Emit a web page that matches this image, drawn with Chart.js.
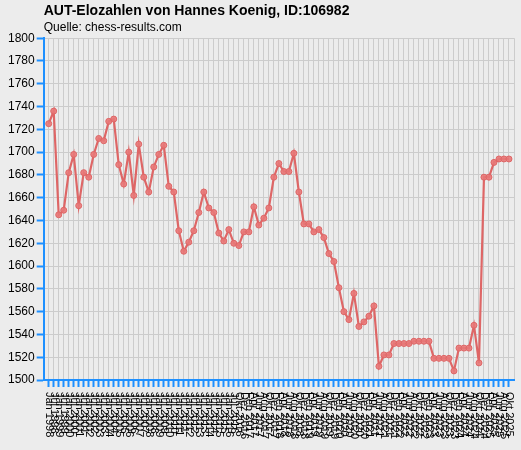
<!DOCTYPE html>
<html>
<head>
<meta charset="utf-8">
<script src="https://cdn.jsdelivr.net/npm/chart.js@4.4.1/dist/chart.umd.min.js"></script>
<style>
  html, body { margin: 0; padding: 0; background: #ececec; }
  #wrap { width: 521px; height: 450px; }
</style>
</head>
<body>
<div id="wrap"><canvas id="chart"></canvas></div>
<script>
// =====================
// Data
// =====================
const listLabels = [
  "Jan 1998","Jul 1998","Jan 1999","Jul 1999","Jan 2000","Jul 2000","Jan 2001","Jul 2001",
  "Jan 2002","Jul 2002","Jan 2003","Jul 2003","Jan 2004","Jul 2004","Jan 2005","Jul 2005",
  "Jan 2006","Jul 2006","Jan 2007","Jul 2007","Jan 2008","Jul 2008","Jan 2009","Jul 2009",
  "Jan 2010","Jul 2010","Jan 2011","Jul 2011","Jan 2012","Jul 2012","Jan 2013","Jul 2013",
  "Jan 2014","Jul 2014","Jan 2015","Jul 2015","Jan 2016","Jul 2016",
  "Okt 2016","Dez 2016",
  "Feb 2017","Apr 2017","Jun 2017","Aug 2017","Okt 2017","Dez 2017",
  "Feb 2018","Apr 2018","Jun 2018","Aug 2018","Okt 2018","Dez 2018",
  "Feb 2019","Apr 2019","Jun 2019","Aug 2019","Okt 2019","Dez 2019",
  "Feb 2020","Apr 2020","Jun 2020","Aug 2020","Okt 2020","Dez 2020",
  "Feb 2021","Apr 2021","Jun 2021","Aug 2021","Okt 2021","Dez 2021",
  "Feb 2022","Apr 2022","Jun 2022","Aug 2022","Okt 2022","Dez 2022",
  "Feb 2023","Apr 2023","Jun 2023","Aug 2023","Okt 2023","Dez 2023",
  "Feb 2024","Apr 2024","Jun 2024","Aug 2024","Okt 2024","Dez 2024",
  "Feb 2025","Apr 2025","Jun 2025","Aug 2025","Okt 2025"
];

const eloValues = [
  1725, 1736, 1645, 1649, 1682, 1698, 1653, 1682, 1678, 1698,
  1712, 1710, 1727, 1729, 1689, 1672, 1700, 1662, 1707, 1678,
  1665, 1687, 1698, 1706, 1670, 1665, 1631, 1613, 1621, 1631,
  1647, 1665, 1651, 1647, 1629, 1622, 1632, 1620, 1618, 1630,
  1630, 1652, 1636, 1642, 1651, 1678, 1690, 1683, 1683, 1699,
  1665, 1637, 1637, 1630, 1632, 1625, 1611, 1604, 1581, 1560,
  1553, 1576, 1547, 1551, 1556, 1565, 1512, 1522, 1522, 1532,
  1532, 1532, 1532, 1534, 1534, 1534, 1534, 1519, 1519, 1519,
  1519, 1508, 1528, 1528, 1528, 1548, 1515, 1678, 1678, 1691,
  1694, 1694, 1694
];

const yMin = 1500;
const yMax = 1800;
const yStep = 20;

// =====================
// Style
// =====================
const axisBlue = "#1e90ff";
const gridGray = "#cccccc";
const lineRed = "#de6666";

Chart.defaults.font.family = "'Liberation Sans', Arial, sans-serif";
Chart.defaults.color = "#000";

// x labels read top-to-bottom, drawn at the scale's own tick positions
const xLabelPlugin = {
  id: "xLabels",
  afterDraw(chart) {
    const scale = chart.scales.x;
    const ctx = chart.ctx;
    ctx.save();
    ctx.font = "11px 'Liberation Sans', Arial, sans-serif";
    ctx.fillStyle = "#000";
    ctx.textAlign = "left";
    ctx.textBaseline = "middle";
    listLabels.forEach((lab, i) => {
      const x = scale.getPixelForValue(i);
      ctx.save();
      ctx.translate(x, scale.bottom + 5);
      ctx.rotate(Math.PI / 2);
      ctx.fillText(lab, 0, 0);
      ctx.restore();
    });
    ctx.restore();
  }
};

const ctx = document.getElementById("chart").getContext("2d");
new Chart(ctx, {
  type: "line",
  data: {
    datasets: [{
      data: eloValues.map((v, i) => ({ x: i, y: v })),
      borderColor: lineRed,
      borderWidth: 2.2,
      pointRadius: 3,
      pointBorderWidth: 1,
      pointBackgroundColor: "rgba(232,120,120,0.9)",
      pointBorderColor: lineRed,
      tension: 0
    }]
  },
  options: {
    responsive: true,
    maintainAspectRatio: false,
    animation: false,
    layout: { padding: { left: 6, right: 7, top: 0, bottom: 63 } },
    plugins: {
      legend: { display: false },
      tooltip: { enabled: false },
      title: {
        display: true,
        text: "AUT-Elozahlen von Hannes Koenig, ID:106982",
        align: "start",
        fullSize: false,
        color: "#000",
        font: { size: 14, weight: "bold" },
        padding: { top: 3, bottom: 1 }
      },
      subtitle: {
        display: true,
        text: "Quelle: chess-results.com",
        align: "start",
        fullSize: false,
        color: "#000",
        font: { size: 12 },
        padding: { top: 0, bottom: 3 }
      }
    },
    scales: {
      x: {
        type: "linear",
        min: -1,
        max: listLabels.length,
        ticks: { display: false, stepSize: 1 },
        grid: {
          color: gridGray,
          tickLength: 7,
          tickWidth: 2,
          tickColor: c => (c.tick && c.tick.value >= 0 && c.tick.value < listLabels.length) ? axisBlue : "rgba(0,0,0,0)"
        },
        border: { color: axisBlue, width: 2 }
      },
      y: {
        min: yMin,
        max: yMax,
        ticks: { stepSize: yStep, padding: 2, font: { size: 12 }, callback: v => String(v) },
        grid: { color: gridGray, tickLength: 7, tickWidth: 2, tickColor: axisBlue },
        border: { color: axisBlue, width: 2 }
      }
    }
  },
  plugins: [xLabelPlugin]
});
</script>
</body>
</html>
